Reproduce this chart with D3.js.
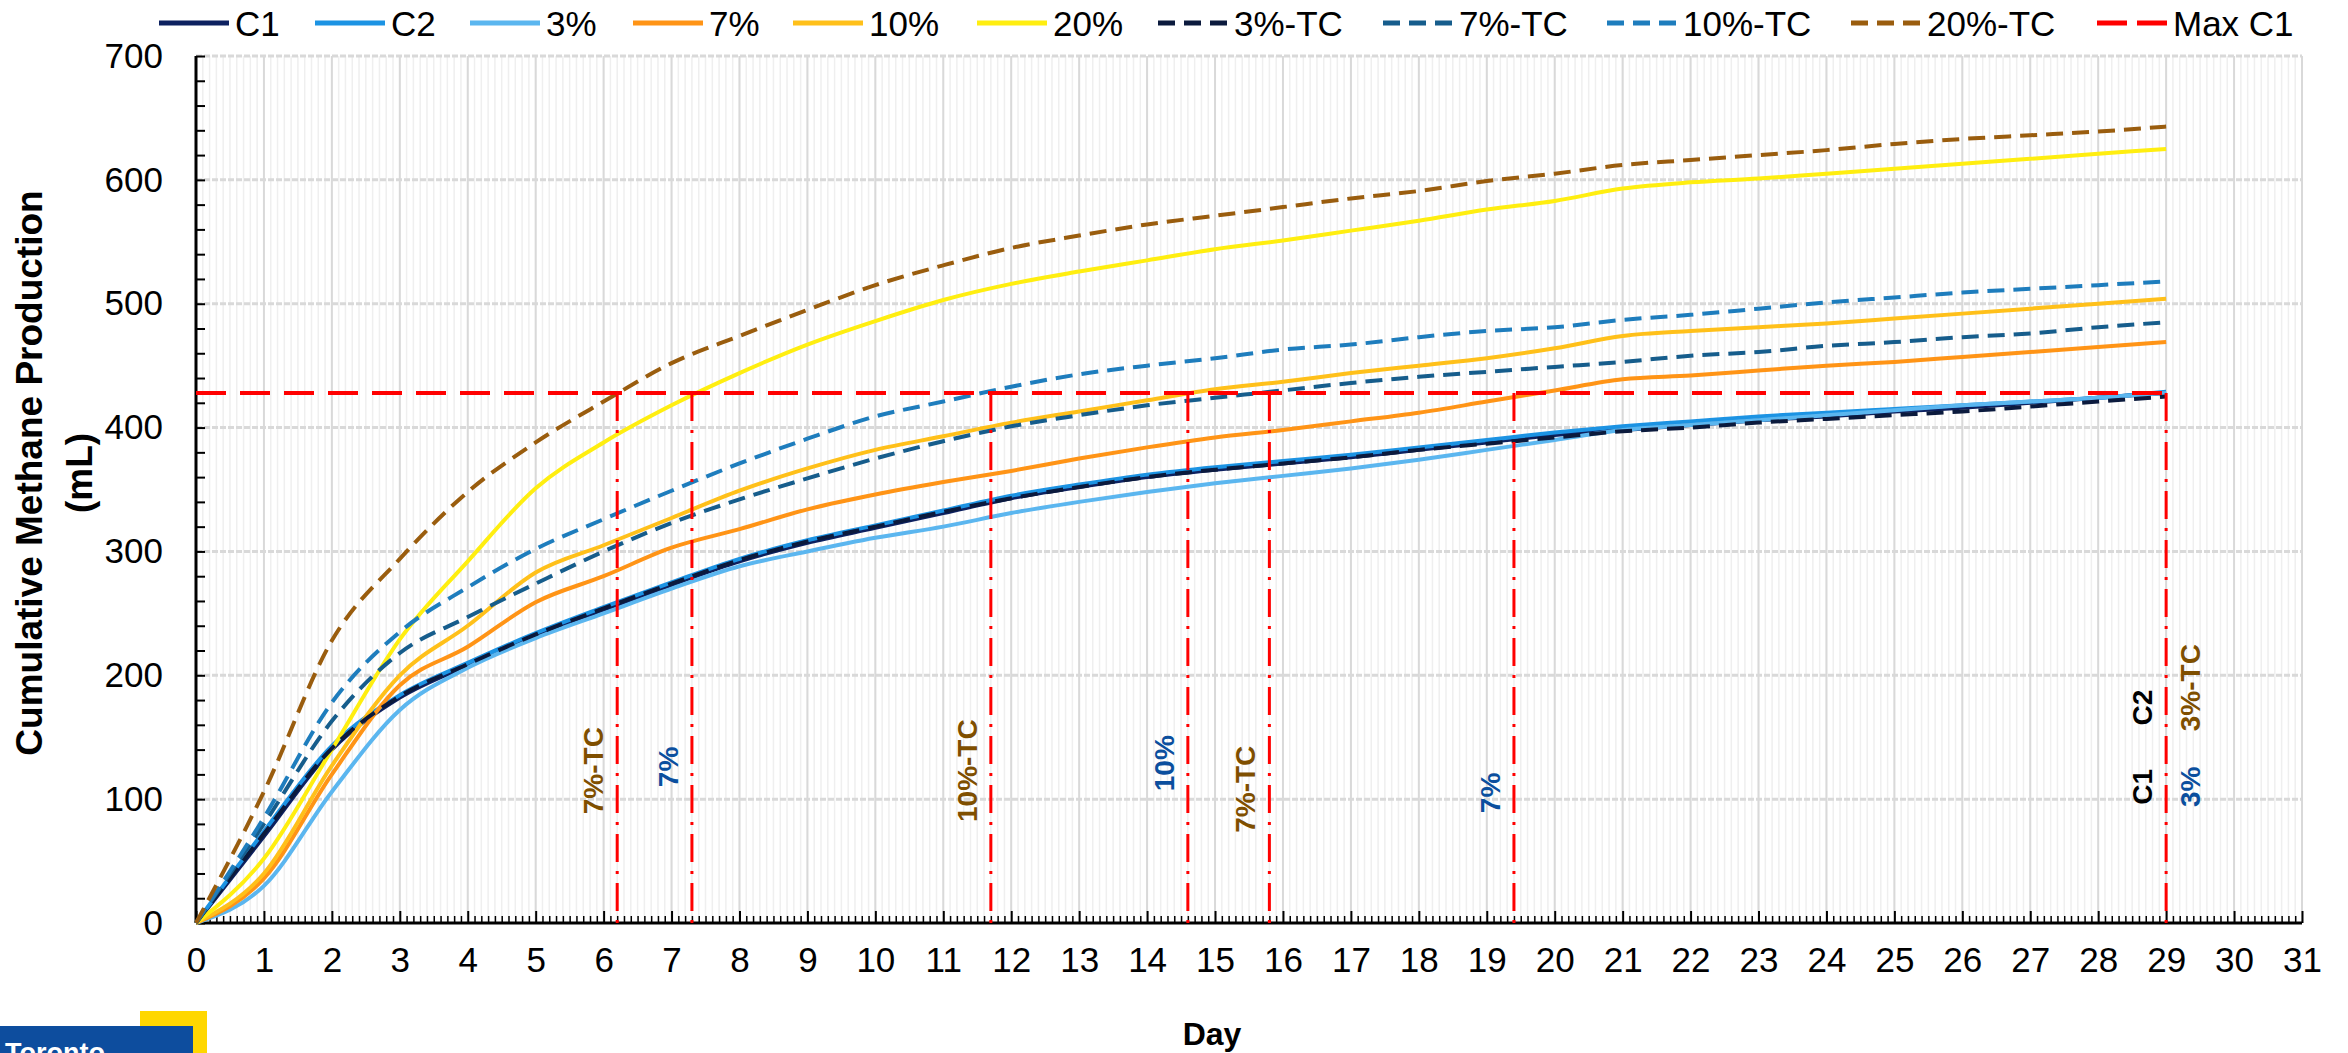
<!DOCTYPE html>
<html>
<head>
<meta charset="utf-8">
<script src="https://cdn.jsdelivr.net/npm/d3@7"></script>
<style>
  body { margin: 0; background: #fff; }
  svg { display: block; font-family: Arial, "Liberation Sans", sans-serif; }
</style>
</head>
<body>
<svg id="chart" width="2348" height="1053"></svg>
<script>

// ---- data (mL per day) ----
var days = d3.range(0, 30);

var c1     = [0, 70, 140, 182, 208, 232, 253, 273, 292, 307, 319, 331, 343, 352, 360, 366, 371, 376, 382, 388, 394, 398, 402, 406, 409, 413, 416, 420, 424, 428];
var c2     = [0, 74, 143, 184, 210, 234, 255, 275, 294, 309, 321, 333, 345, 354, 362, 368, 373, 378, 384, 390, 396, 401, 405, 409, 412, 415, 418, 421, 424, 429];
var p3     = [0, 30, 106, 172, 206, 230, 250, 270, 288, 300, 311, 320, 331, 340, 348, 355, 361, 367, 374, 382, 390, 398, 402, 406, 410, 414, 418, 421, 424, 428];
var p7     = [0, 36, 120, 192, 223, 259, 280, 303, 318, 334, 346, 356, 365, 375, 384, 392, 398, 405, 412, 421, 430, 439, 442, 446, 450, 453, 457, 461, 465, 469];
var p10    = [0, 40, 127, 200, 240, 283, 305, 327, 349, 367, 382, 393, 404, 413, 422, 431, 437, 444, 450, 456, 464, 474, 478, 481, 484, 488, 492, 496, 500, 504];
var p20    = [0, 52, 140, 229, 292, 351, 388, 418, 444, 467, 486, 503, 516, 526, 535, 544, 551, 559, 567, 576, 583, 593, 598, 601, 605, 609, 613, 617, 621, 625];
var p3tc   = [0, 72, 141, 183, 209, 233, 254, 274, 293, 308, 320, 332, 343, 352, 360, 366, 371, 376, 382, 387, 392, 397, 400, 404, 407, 410, 413, 417, 421, 425];
var p7tc   = [0, 80, 163, 218, 247, 274, 300, 323, 342, 359, 375, 389, 401, 410, 418, 424, 430, 436, 441, 445, 449, 453, 458, 461, 466, 469, 473, 476, 481, 485];
var p10tc  = [0, 85, 178, 235, 271, 302, 326, 349, 371, 391, 409, 421, 433, 443, 450, 456, 463, 467, 473, 478, 481, 487, 491, 496, 501, 505, 509, 512, 515, 518];
var p20tc  = [0, 106, 228, 294, 348, 388, 421, 452, 474, 495, 515, 531, 545, 555, 564, 571, 578, 585, 591, 599, 605, 612, 616, 620, 624, 629, 633, 636, 639, 643];

var maxC1 = 428;
var maxC1Days = [0, 29];

// days where each run reaches the C1 maximum
var crossDays = [6.2, 7.3, 11.7, 14.6, 15.8, 19.4, 29];

// annotation text beside the vertical lines (value = mL at the text centre)
var crossLabels = [
  { day: 6.2,  text: "7%-TC",  side: -1, value: 123, color: "#7f4f00" },
  { day: 7.3,  text: "7%",     side: -1, value: 126, color: "#0b4f9e" },
  { day: 11.7, text: "10%-TC", side: -1, value: 123, color: "#7f4f00" },
  { day: 14.6, text: "10%",    side: -1, value: 129, color: "#0b4f9e" },
  { day: 15.8, text: "7%-TC",  side: -1, value: 108, color: "#7f4f00" },
  { day: 19.4, text: "7%",     side: -1, value: 105, color: "#0b4f9e" },
  { day: 29,   text: "C1",     side: -1, value: 110, color: "#000000" },
  { day: 29,   text: "C2",     side: -1, value: 174, color: "#000000" },
  { day: 29,   text: "3%-TC",  side: 1,  value: 190, color: "#7f4f00" },
  { day: 29,   text: "3%",     side: 1,  value: 110, color: "#0b4f9e" }
];

var xTicks = d3.range(0, 32);
var yTicks = d3.range(0, 701, 100);

var series = [
  { name: "C1",     values: c1,    color: "#0d2160", dash: null },
  { name: "C2",     values: c2,    color: "#1c93e3", dash: null },
  { name: "3%",     values: p3,    color: "#5bb6ef", dash: null },
  { name: "7%",     values: p7,    color: "#ff9416", dash: null },
  { name: "10%",    values: p10,   color: "#ffc01a", dash: null },
  { name: "20%",    values: p20,   color: "#ffee10", dash: null },
  { name: "3%-TC",  values: p3tc,  color: "#0b1a3d", dash: "17,9" },
  { name: "7%-TC",  values: p7tc,  color: "#165d8c", dash: "17,9" },
  { name: "10%-TC", values: p10tc, color: "#1e7dbd", dash: "17,9" },
  { name: "20%-TC", values: p20tc, color: "#9a5d0e", dash: "17,9" }
];

// legend start positions along the top
var legendX = [159, 315, 470, 633, 793, 977, 1158, 1383, 1607, 1851, 2097];

// ---- drawing ----
var svg = d3.select("#chart");

var x = d3.scaleLinear().domain([0, 31]).range([196, 2302]);
var y = d3.scaleLinear().domain([0, 700]).range([923, 56]);

var grid = svg.append("g");

// minor vertical grid
grid.selectAll("line.vminor")
  .data(d3.range(0, 31 * 10 + 1).map(function(i) { return i / 10; }))
  .enter().append("line")
  .attr("x1", function(d) { return x(d); }).attr("x2", function(d) { return x(d); })
  .attr("y1", y(700)).attr("y2", y(0))
  .attr("stroke", "#efefef").attr("stroke-width", 1.5);

// major vertical grid
grid.selectAll("line.vmajor")
  .data(xTicks.slice(1))
  .enter().append("line")
  .attr("x1", function(d) { return x(d); }).attr("x2", function(d) { return x(d); })
  .attr("y1", y(700)).attr("y2", y(0))
  .attr("stroke", "#d9d9d9").attr("stroke-width", 2);

// horizontal grid
grid.selectAll("line.h")
  .data(yTicks.slice(1))
  .enter().append("line")
  .attr("x1", x(0)).attr("x2", x(31))
  .attr("y1", function(d) { return y(d); }).attr("y2", function(d) { return y(d); })
  .attr("stroke", "#d9d9d9").attr("stroke-width", 3).attr("stroke-dasharray", "6,2");

// axes
var xAxis = d3.axisBottom(x).tickValues(xTicks).tickSize(-12).tickPadding(24).tickFormat(d3.format("d"));
var yAxis = d3.axisLeft(y).tickValues(yTicks).tickSize(0).tickPadding(33).tickFormat(d3.format("d"));

var gx = svg.append("g").attr("transform", "translate(0," + y(0) + ")").call(xAxis);
var gy = svg.append("g").attr("transform", "translate(" + x(0) + ",0)").call(yAxis);

[gx, gy].forEach(function(g) {
  g.select(".domain").attr("stroke", "#000").attr("stroke-width", 3);
  g.selectAll(".tick line").attr("stroke", "#000").attr("stroke-width", 2);
  g.selectAll(".tick text").attr("font-size", 35).attr("fill", "#000")
    .attr("font-family", "Arial, 'Liberation Sans', sans-serif");
});
gx.select(".domain").attr("d", "M" + x(0) + ",0H" + x(31));
gy.select(".domain").attr("d", "M0," + y(700) + "V" + y(0));

// minor ticks
var xMinor = d3.axisBottom(x)
  .tickValues(d3.range(0, 31 * 10 + 1).filter(function(i) { return i % 10; }).map(function(i) { return i / 10; }))
  .tickSize(-7).tickFormat("");
svg.append("g").attr("transform", "translate(0," + y(0) + ")").call(xMinor)
  .call(function(g) { g.select(".domain").remove(); g.selectAll("line").attr("stroke", "#000").attr("stroke-width", 1.5); });

var yMinor = d3.axisLeft(y).tickValues(d3.range(0, 701, 20)).tickSize(-9).tickFormat("");
svg.append("g").attr("transform", "translate(" + x(0) + ",0)").call(yMinor)
  .call(function(g) { g.select(".domain").remove(); g.selectAll("line").attr("stroke", "#000").attr("stroke-width", 2); });

// series lines
var line = d3.line()
  .x(function(d, i) { return x(days[i]); })
  .y(function(d) { return y(d); })
  .curve(d3.curveMonotoneX);

svg.append("g").selectAll("path")
  .data(series)
  .enter().append("path")
  .attr("d", function(s) { return line(s.values); })
  .attr("fill", "none")
  .attr("stroke", function(s) { return s.color; })
  .attr("stroke-width", 4)
  .attr("stroke-dasharray", function(s) { return s.dash; });

// max C1 horizontal
svg.append("line")
  .attr("x1", x(maxC1Days[0])).attr("x2", x(maxC1Days[1]))
  .attr("y1", y(maxC1)).attr("y2", y(maxC1))
  .attr("stroke", "#ff0000").attr("stroke-width", 4).attr("stroke-dasharray", "30,14");

// vertical dash-dot markers
svg.append("g").selectAll("line")
  .data(crossDays)
  .enter().append("line")
  .attr("x1", function(d) { return x(d); }).attr("x2", function(d) { return x(d); })
  .attr("y1", y(maxC1)).attr("y2", y(0))
  .attr("stroke", "#ff0000").attr("stroke-width", 3)
  .attr("stroke-dasharray", "28,9,3,9");

svg.append("g").selectAll("text")
  .data(crossLabels)
  .enter().append("text")
  .attr("transform", function(d) {
    return "translate(" + (x(d.day) + d.side * 24) + "," + y(d.value) + ") rotate(-90)";
  })
  .attr("text-anchor", "middle")
  .attr("dy", "0.36em")
  .attr("font-size", 28)
  .attr("font-weight", "bold")
  .attr("fill", function(d) { return d.color; })
  .text(function(d) { return d.text; });

// axis titles
svg.append("text")
  .attr("transform", "translate(42,473) rotate(-90)")
  .attr("text-anchor", "middle")
  .attr("font-size", 37).attr("font-weight", "bold")
  .text("Cumulative Methane Production");
svg.append("text")
  .attr("transform", "translate(92,473) rotate(-90)")
  .attr("text-anchor", "middle")
  .attr("font-size", 37).attr("font-weight", "bold")
  .text("(mL)");
svg.append("text")
  .attr("x", 1212).attr("y", 1045)
  .attr("text-anchor", "middle")
  .attr("font-size", 32).attr("font-weight", "bold")
  .text("Day");

// legend
var legendItems = series.map(function(s) { return { name: s.name, color: s.color, dash: s.dash ? "17,9" : null }; });
legendItems.push({ name: "Max C1", color: "#ff0000", dash: "30,10" });

var lg = svg.append("g").selectAll("g")
  .data(legendItems)
  .enter().append("g")
  .attr("transform", function(d, i) { return "translate(" + legendX[i] + ",23)"; });
lg.append("line")
  .attr("x1", 0).attr("x2", 70)
  .attr("stroke", function(d) { return d.color; })
  .attr("stroke-width", 5)
  .attr("stroke-dasharray", function(d) { return d.dash; });
lg.append("text")
  .attr("x", 76).attr("dy", "0.36em")
  .attr("font-size", 35)
  .text(function(d) { return d.name; });

// logo block, bottom left (its lettering runs off the bottom edge, as in the source)
var logo = svg.append("g");
logo.append("rect").attr("x", 140).attr("y", 1011).attr("width", 67).attr("height", 42).attr("fill", "#ffd700");
logo.append("rect").attr("x", 0).attr("y", 1026).attr("width", 193).attr("height", 27).attr("fill", "#0d4d9e");
logo.append("text").attr("x", 5).attr("y", 1062).attr("font-size", 27).attr("font-weight", "bold")
  .attr("fill", "#fff").text("Toronto");

</script>
</body>
</html>
